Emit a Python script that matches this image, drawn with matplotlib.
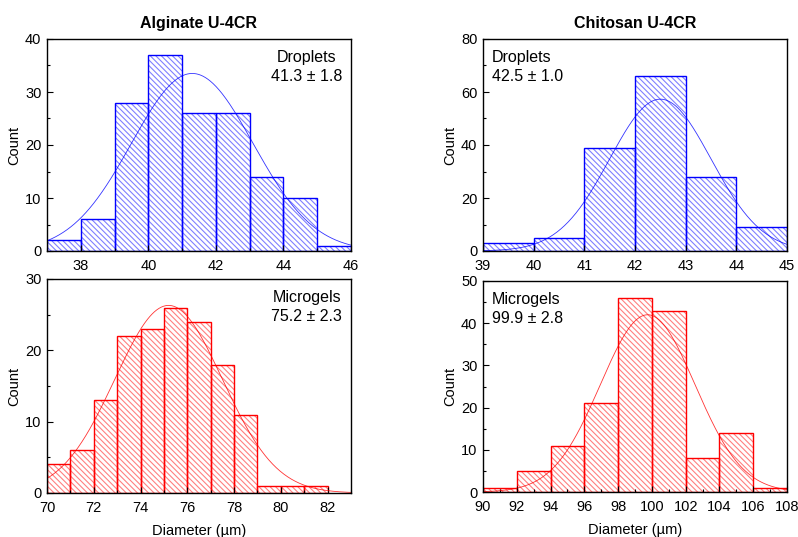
import numpy as np
import matplotlib
matplotlib.use("Agg")
import matplotlib.pyplot as plt
from matplotlib.ticker import MultipleLocator

plt.rcParams['font.family'] = ['Liberation Sans', 'DejaVu Sans']
plt.rcParams['hatch.linewidth'] = 0.8

# ---- data ----
alg_drop_edges = [37, 38, 39, 40, 41, 42, 43, 44, 45, 46]
alg_drop_counts = [2, 6, 28, 37, 26, 26, 14, 10, 1]
alg_drop_fit = (41.3, 1.8, 33.5)   # mean, sd, peak height

chi_drop_edges = [39, 40, 41, 42, 43, 44, 45]
chi_drop_counts = [3, 5, 39, 66, 28, 9]
chi_drop_fit = (42.5, 1.0, 57.3)

alg_gel_edges = [70, 71, 72, 73, 74, 75, 76, 77, 78, 79, 80, 81, 82]
alg_gel_counts = [4, 6, 13, 22, 23, 26, 24, 18, 11, 1, 1, 1]
alg_gel_fit = (75.2, 2.3, 26.3)

chi_gel_edges = [90, 92, 94, 96, 98, 100, 102, 104, 106, 108]
chi_gel_counts = [1, 5, 11, 21, 46, 43, 8, 14, 1]
chi_gel_fit = (99.75, 2.8, 42.0)

titles = ["Alginate U-4CR", "Chitosan U-4CR"]
labels = [("Droplets", "41.3 ± 1.8"), ("Droplets", "42.5 ± 1.0"),
          ("Microgels", "75.2 ± 2.3"), ("Microgels", "99.9 ± 2.8")]

W, H = 798, 537
fig = plt.figure(figsize=(W / 100, H / 100), dpi=100)

def px_axes(l, t, r, b):
    return fig.add_axes([l / W, 1 - b / H, (r - l) / W, (b - t) / H])

panels = [
    dict(rect=(47, 39, 351, 251), edges=alg_drop_edges, counts=alg_drop_counts, fit=alg_drop_fit,
         color='#0000ff', hcolor='#8080ff', xlim=(37, 46), ylim=(0, 40), xmaj=2, xmin=1, ymaj=10, ymin=5,
         lab=labels[0], lx=0.855, ha='center', title=titles[0], xlabel=False),
    dict(rect=(483, 39, 787, 251), edges=chi_drop_edges, counts=chi_drop_counts, fit=chi_drop_fit,
         color='#0000ff', hcolor='#8080ff', xlim=(39, 45), ylim=(0, 80), xmaj=1, xmin=None, ymaj=20, ymin=10,
         lab=labels[1], lx=0.03, ha='left', title=titles[1], xlabel=False),
    dict(rect=(47, 279, 351, 493), edges=alg_gel_edges, counts=alg_gel_counts, fit=alg_gel_fit,
         color='#ff0000', hcolor='#ff8080', xlim=(70, 83), ylim=(0, 30), xmaj=2, xmin=1, ymaj=10, ymin=5,
         lab=labels[2], lx=0.855, ha='center', title=None, xlabel=True),
    dict(rect=(483, 281, 787, 492), edges=chi_gel_edges, counts=chi_gel_counts, fit=chi_gel_fit,
         color='#ff0000', hcolor='#ff8080', xlim=(90, 108), ylim=(0, 50), xmaj=2, xmin=1, ymaj=10, ymin=5,
         lab=labels[3], lx=0.03, ha='left', title=None, xlabel=True),
]

for p in panels:
    ax = px_axes(*p['rect'])
    edges = np.array(p['edges'], dtype=float)
    counts = np.array(p['counts'], dtype=float)
    # hatch layer
    ax.bar(edges[:-1], counts, width=np.diff(edges), align='edge',
           facecolor='none', edgecolor=p['hcolor'], hatch='\\' * 6, linewidth=0)
    # outline layer
    ax.bar(edges[:-1], counts, width=np.diff(edges), align='edge',
           facecolor='none', edgecolor=p['color'], linewidth=1.0)
    mu, sd, amp = p['fit']
    xs = np.linspace(p['xlim'][0], p['xlim'][1], 400)
    ax.plot(xs, amp * np.exp(-0.5 * ((xs - mu) / sd) ** 2), color=p['color'], lw=0.6, alpha=0.8)
    ax.set_xlim(*p['xlim'])
    ax.set_ylim(*p['ylim'])
    ax.xaxis.set_major_locator(MultipleLocator(p['xmaj']))
    if p['xmin']:
        ax.xaxis.set_minor_locator(MultipleLocator(p['xmin']))
    ax.yaxis.set_major_locator(MultipleLocator(p['ymaj']))
    ax.yaxis.set_minor_locator(MultipleLocator(p['ymin']))
    ax.tick_params(which='both', direction='in', labelsize=10.5, width=0.8)
    ax.tick_params(which='major', length=4)
    ax.tick_params(which='minor', length=2)
    ax.tick_params(axis='x', which='major', pad=6)
    ax.tick_params(axis='y', which='major', pad=4)
    for s in ax.spines.values():
        s.set_linewidth(1.0)
    ax.set_ylabel("Count", fontsize=10.5, labelpad=3)
    if p['xlabel']:
        ax.set_xlabel("Diameter (µm)", fontsize=10.5, labelpad=6)
    if p['title']:
        ax.set_title(p['title'], fontsize=11.5, fontweight='bold', pad=8)
    ax.text(p['lx'], 0.95, p['lab'][0] + "\n" + p['lab'][1], transform=ax.transAxes,
            ha=p['ha'], va='top', fontsize=11.5, multialignment='center' if p['ha'] == 'center' else 'left',
            linespacing=1.35)

fig.savefig("out.png", dpi=100)
